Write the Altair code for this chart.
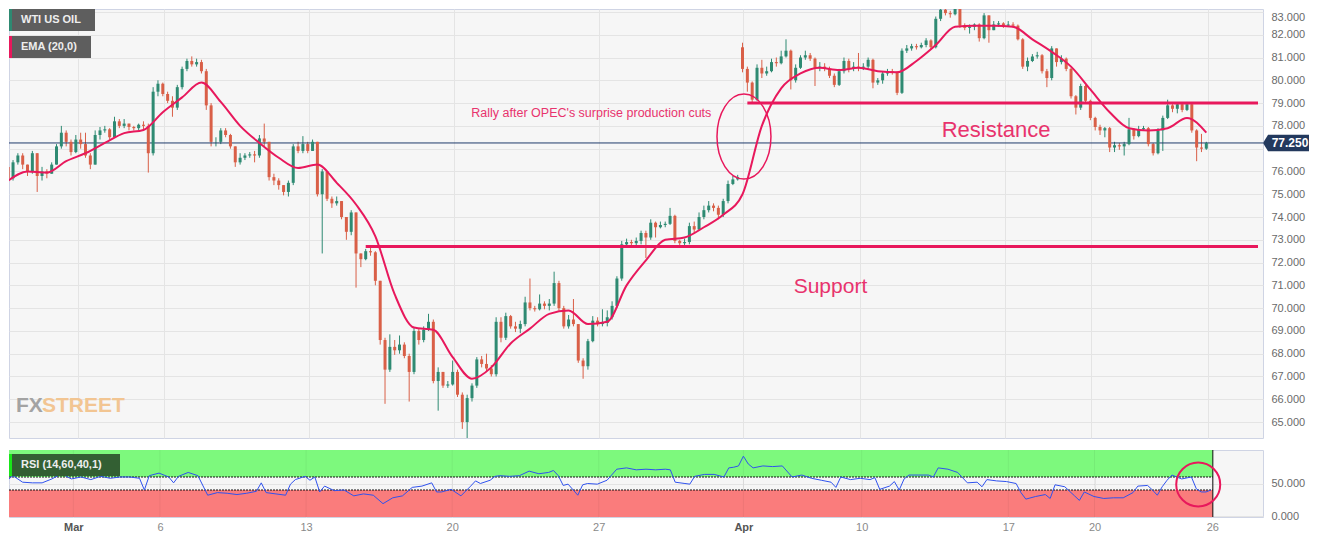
import altair as alt
import pandas as pd

# ---------------- data ----------------
# 4-hour candles, index 0..248 (x position = candle index)
close = [
    75.7, 76.4, 76.7, 76.3, 76.0, 76.8, 75.8, 76.0, 75.9, 76.3,
    77.1, 77.7, 77.3, 76.85, 77.4, 77.2, 76.7, 76.3, 77.6, 77.8,
    77.85, 77.5, 78.2, 78.0, 78.1, 77.95, 77.9, 78.05, 78.0, 76.8,
    79.5, 79.85, 79.4, 79.1, 78.8, 79.7, 80.5, 80.85, 80.7, 80.8,
    80.4, 78.9, 77.3, 77.3, 77.8, 77.6, 77.1, 76.4, 76.6, 76.7,
    76.75, 76.7, 77.45, 77.3, 75.75, 75.6, 75.4, 75.1, 75.5, 77.1,
    76.9, 77.2, 76.9, 77.3, 75.0, 76.0, 74.8, 74.6, 74.7, 74.0,
    73.35, 74.2, 72.4, 72.15, 72.5, 72.45, 71.2, 68.6, 67.3, 68.3,
    68.15, 68.4, 67.9, 67.2, 69.0, 68.6, 69.05, 69.4, 66.8, 67.2,
    66.6, 66.65, 67.2, 66.2, 65.0, 66.05, 66.6, 67.75, 67.55, 67.35,
    67.1, 69.4, 68.7, 69.65, 69.2, 69.1, 69.3, 70.25, 70.0, 69.95,
    70.2, 70.1, 70.2, 71.1, 70.0, 69.2, 69.5, 69.3, 67.7, 67.45,
    68.55, 69.45, 69.3, 69.35, 69.6, 70.1, 71.3, 72.8, 72.9, 72.85,
    72.95, 73.3, 73.1, 73.75, 73.55, 73.65, 73.7, 74.05, 72.95, 72.85,
    72.9, 73.6, 73.45, 74.0, 74.3, 74.5, 74.4, 74.1, 74.7, 75.45,
    75.65, 75.75, 80.5, 79.9, 79.15, 80.55, 80.3, 80.4, 80.8, 80.75,
    81.05, 81.3, 80.0, 80.55, 81.0, 81.1, 80.95, 80.55, 80.6, 80.5,
    80.2, 79.8, 80.4, 80.85, 80.5, 80.6, 80.55, 80.6, 80.9, 79.9,
    80.0, 80.3, 80.4, 80.35, 79.45, 81.3, 81.4, 81.5, 81.45, 81.55,
    81.75, 81.45, 82.7, 83.1, 82.95, 82.9, 83.15, 82.4, 82.3, 82.35,
    82.45, 81.85, 82.85, 82.2, 82.45, 82.5, 82.4, 82.45, 82.4, 81.8,
    80.6, 80.85, 81.05, 81.1, 80.4, 80.1, 81.4, 80.8, 80.95, 80.5,
    79.3, 78.8, 79.75, 79.1, 78.35, 77.95, 77.8, 77.9, 77.05, 77.15,
    77.1, 77.2, 77.85, 77.55, 77.85, 77.9, 77.2, 76.8, 77.8, 78.35,
    78.9, 78.75, 78.95, 78.7, 78.95, 77.8, 77.05, 77.0, 77.25,
]
high = [
    76.3, 76.5, 76.8, 76.8, 76.3, 76.9, 76.8, 76.2, 76.1, 76.4,
    77.2, 78.0, 77.8, 77.4, 77.6, 77.7, 77.7, 76.8, 77.8, 77.95,
    78.0, 77.9, 78.4, 78.3, 78.3, 78.1, 78.0, 78.1, 78.2, 78.1,
    79.7, 80.0, 79.9, 79.5, 79.3, 79.8, 80.6, 80.95, 81.05, 80.95,
    80.9, 80.5, 79.0, 77.5, 77.9, 77.9, 77.65, 77.1, 76.8, 76.8,
    76.85, 76.9, 77.6, 78.1, 77.3, 75.9, 75.7, 75.4, 75.6, 77.2,
    77.3, 77.55, 77.3, 77.4, 77.3, 76.1, 76.0, 74.9, 74.9, 74.7,
    74.0, 74.3, 74.2, 72.4, 72.6, 72.7, 72.5, 71.2, 68.7, 68.85,
    68.6, 68.8, 68.5, 68.0, 69.15, 69.1, 69.2, 69.75, 69.5, 67.4,
    67.2, 66.8, 67.7, 67.3, 66.3, 66.2, 66.7, 67.85, 67.9, 68.0,
    67.5, 69.6, 69.6, 69.8, 69.7, 69.4, 69.45, 70.5, 71.3, 70.1,
    70.6, 70.3, 70.4, 71.6, 71.2, 70.1, 69.7, 70.4, 69.3, 67.8,
    68.65, 69.65, 69.6, 69.95, 69.9, 70.3, 71.4, 72.95, 73.05, 73.0,
    73.1, 73.4, 73.4, 73.9, 73.8, 73.8, 73.8, 74.4, 74.1, 73.0,
    73.05, 73.75, 73.8, 74.2, 74.5, 74.7, 74.6, 74.5, 74.8, 75.6,
    75.8, 75.85, 81.65, 80.6, 79.95, 80.7, 80.9, 80.6, 80.95, 81.0,
    81.3, 81.8, 81.35, 80.7, 81.1, 81.3, 81.2, 81.0, 80.8, 80.75,
    80.6, 80.3, 80.5, 81.0, 80.95, 80.8, 81.2, 80.75, 81.0, 80.95,
    80.1, 80.4, 80.5, 80.5, 80.4, 81.4, 81.55, 81.6, 81.6, 81.65,
    81.85, 81.8, 82.8, 83.35, 83.15, 83.05, 83.25, 83.2, 82.5, 82.45,
    82.5, 82.5, 82.95, 82.85, 82.6, 82.6, 82.55, 82.6, 82.55, 82.45,
    81.85, 81.0, 81.15, 81.25, 81.15, 80.5, 81.5, 81.4, 81.1, 81.0,
    80.55, 79.35, 79.85, 79.8, 79.15, 78.4, 78.05, 77.95, 77.95, 77.3,
    77.25, 77.3, 78.35, 77.9, 78.0, 78.0, 77.95, 77.25, 77.9, 78.45,
    79.15, 78.95, 79.0, 79.0, 79.05, 79.0, 77.85, 77.65, 77.3,
]
low = [
    74.1, 75.6, 76.3, 76.1, 75.8, 75.9, 75.1, 75.6, 75.7, 75.9,
    76.3, 77.0, 77.1, 76.7, 76.8, 77.0, 76.6, 76.1, 76.3, 77.4,
    77.7, 77.4, 77.5, 77.9, 77.9, 77.8, 77.8, 77.8, 77.85, 75.95,
    76.7, 79.3, 79.3, 79.0, 78.4, 78.7, 79.6, 80.4, 80.6, 80.6,
    80.3, 78.7, 77.1, 77.1, 77.2, 77.5, 77.0, 76.2, 76.3, 76.5,
    76.6, 76.4, 76.6, 77.1, 75.6, 75.4, 75.2, 74.95, 74.9, 75.4,
    76.8, 76.8, 76.8, 76.9, 74.9, 72.4, 74.7, 74.4, 74.5, 73.9,
    73.0, 73.2, 70.9, 71.8, 72.1, 72.3, 71.0, 68.4, 65.8, 67.2,
    67.95, 68.0, 67.8, 65.9, 67.1, 68.4, 68.5, 69.0, 66.7, 65.5,
    66.5, 66.5, 66.6, 66.1, 64.7, 64.3, 65.9, 66.5, 67.4, 67.2,
    67.0, 67.0, 68.5, 68.6, 69.1, 68.95, 68.9, 69.2, 69.9, 69.85,
    69.9, 69.95, 69.9, 70.1, 69.9, 69.1, 69.1, 69.2, 67.6, 66.9,
    67.3, 68.5, 69.2, 69.2, 69.2, 69.5, 70.0, 71.2, 72.7, 72.7,
    72.7, 72.8, 72.2, 73.0, 73.1, 73.5, 73.55, 73.65, 72.85, 72.7,
    72.75, 72.8, 73.3, 73.4, 73.9, 74.2, 74.25, 73.9, 74.0, 74.6,
    75.4, 75.6, 80.35, 79.5, 79.0, 79.1, 80.1, 80.2, 80.35, 80.6,
    80.7, 81.0, 79.6, 79.9, 80.5, 80.9, 80.85, 79.75, 80.4, 80.4,
    80.1, 79.7, 79.75, 80.3, 80.35, 80.4, 80.4, 80.45, 80.5, 79.65,
    79.8, 79.85, 80.2, 80.25, 79.35, 79.4, 81.2, 81.3, 81.35, 81.4,
    81.45, 81.35, 81.4, 82.6, 82.85, 82.75, 82.85, 82.3, 82.2, 82.05,
    82.2, 81.7, 81.8, 81.65, 82.2, 82.35, 82.3, 82.35, 82.3, 81.75,
    80.5, 80.4, 80.8, 80.95, 80.3, 79.7, 80.0, 80.6, 80.7, 80.4,
    79.2, 78.5, 78.7, 79.0, 78.25, 77.8, 77.6, 77.5, 76.85, 76.85,
    76.95, 76.7, 77.15, 77.4, 77.5, 77.8, 77.1, 76.7, 76.75, 76.9,
    78.3, 78.6, 78.55, 78.6, 78.65, 77.7, 76.45, 76.85, 76.95,
]
gap_open = {0: 76.2, 152: 81.45}   # opens that differ from the previous close

ema_idx = list(range(0, 249, 4))
ema_val = [
    75.6, 76.0, 75.95, 76.45, 76.8, 77.25, 77.68, 77.82, 78.6, 79.25,
    79.9, 79.05, 78.0, 77.25, 76.6, 76.15, 76.3, 75.5, 74.55, 73.15,
    70.6, 69.15, 69.05, 67.85, 66.9, 67.4, 68.45, 69.1, 69.75, 69.9,
    69.3, 69.4, 71.0, 72.1, 73.0, 73.1, 73.55, 74.1, 75.0, 78.0,
    79.65, 80.3, 80.55, 80.45, 80.55, 80.4, 80.35, 80.85, 81.55, 82.35,
    82.4, 82.4, 82.35, 81.8, 81.25, 80.6, 79.6, 78.6, 77.9, 77.8,
    77.9, 78.35, 77.7,
]

rsi_idx = [
    0, 2, 4, 6, 8, 10, 12, 14, 16, 18,
    20, 22, 24, 26, 28, 29, 30, 32, 34, 35,
    36, 38, 40, 42, 44, 46, 48, 50, 52, 53,
    54, 56, 58, 59, 60, 62, 63, 64, 65, 66,
    68, 70, 72, 74, 76, 78, 80, 82, 84, 86,
    88, 89, 90, 92, 94, 96, 97, 98, 100, 101,
    102, 104, 106, 108, 110, 112, 113, 114, 115, 116,
    118, 119, 120, 122, 124, 126, 128, 130, 132, 134,
    136, 137, 138, 140, 141, 142, 144, 146, 148, 149,
    150, 151, 152, 153, 154, 156, 158, 160, 162, 164,
    166, 168, 170, 171, 172, 174, 176, 178, 179, 180,
    182, 183, 184, 185, 186, 188, 190, 191, 192, 194,
    196, 198, 200, 201, 202, 204, 206, 208, 209, 210,
    212, 214, 215, 216, 218, 220, 221, 222, 224, 226,
    228, 230, 232, 233, 235, 236, 237, 238, 239, 240,
    242, 244, 245, 246, 247, 248,
]
rsi_val = [
    50, 62, 52, 51, 51, 57, 65, 57, 60, 56,
    61, 58, 60, 60, 58, 40, 62, 66, 60, 51,
    61, 67, 62, 32, 36, 35, 33, 35, 38, 51,
    36, 34, 32, 49, 56, 61, 55, 60, 37, 46,
    39, 40, 31, 34, 32, 19, 28, 31, 44, 46,
    51, 37, 37, 41, 31, 46, 54, 50, 55, 61,
    62, 61, 62, 69, 65, 67, 70, 62, 47, 49,
    32, 48, 50, 49, 55, 72, 74, 71, 72, 71,
    72, 71, 52, 50, 49, 61, 64, 64, 60, 74,
    75, 77, 92, 80, 74, 77, 76, 77, 60, 63,
    58, 55, 52, 44, 60, 56, 58, 56, 59, 41,
    46, 53, 40, 57, 63, 63, 63, 60, 74, 72,
    67, 51, 52, 45, 56, 54, 53, 50, 36, 26,
    30, 33, 27, 48, 45, 31, 24, 37, 30, 27,
    28, 28, 36, 46, 47, 40, 32, 45, 55, 63,
    57, 60, 42, 37, 37, 40,
]

tick_idx = [14.4, 32.2, 62.2, 92.2, 122.3, 152.0, 176.3, 206.4, 224.1, 248.3]
tick_lab = ["Mar", "6", "13", "20", "27", "Apr", "10", "17", "20", "26"]
month_ticks = [14.4, 152.0]
price_ticks = list(range(65, 84))
rsi_ticks = [0, 50]

last_price = 77.25
resistance, resistance_from = 79.0, 153
support, support_from = 72.7, 74
rsi_hi, rsi_lo = 60, 40
rsi_end = 248.4

notes_rally = ("Rally after OPEC's surprise production cuts", 120.7, 78.57)
notes_res = ("Resistance", 204.5, 77.82)
notes_sup = ("Support", 170.2, 70.93)
ellipse_at = (152.3, 77.53)
circle_at = (245.4, 48.5)

X_MIN, X_MAX = 1.2, 258.7
Y_MIN, Y_MAX = 64.30, 83.13
R_MIN, R_MAX = -1.5, 101.5

# ---------------- styling ----------------
GREEN = "#2e8a72"
RED = "#d95f47"
CRIMSON = "#e8185c"
TEXT_CRIMSON = "#e8336d"
NAVY = "#1f3b6b"
TAG = "#23395d"
W, H_MAIN, H_RSI = 1254, 429, 67

n = len(close)
assert len(high) == n and len(low) == n
assert len(ema_idx) == len(ema_val)
assert len(rsi_idx) == len(rsi_val)

rows = []
for i in range(n):
    o = gap_open[i] if i in gap_open else close[i - 1]
    c = close[i]
    rows.append({"i": i, "o": o, "c": c, "h": max(high[i], o, c), "l": min(low[i], o, c)})
candles = pd.DataFrame(rows)
ema = pd.DataFrame({"i": ema_idx, "v": ema_val})
rsi = pd.DataFrame({"i": rsi_idx, "v": rsi_val})
one = pd.DataFrame({"k": [0]})

xs = alt.Scale(domain=[X_MIN, X_MAX], nice=False, zero=False)
ys = alt.Scale(domain=[Y_MIN, Y_MAX], nice=False, zero=False)
rs = alt.Scale(domain=[R_MIN, R_MAX], nice=False, zero=False)

up_color = alt.condition("datum.c >= datum.o", alt.value(GREEN), alt.value(RED))

x_main_axis = alt.Axis(values=tick_idx, labels=False, ticks=False, domain=False,
                       grid=True, title=None)
y_main_axis = alt.Axis(orient="right", values=price_ticks, format=".3f", grid=True,
                       ticks=False, domain=False, title=None, labelPadding=8,
                       labelFlush=5,
                       labelExpr=f"datum.value == {round(last_price)} ? '' : datum.label")

label_expr = "''"
for v, lab in reversed(list(zip(tick_idx, tick_lab))):
    label_expr = f"datum.value == {v} ? '{lab}' : ({label_expr})"
month_test = " || ".join(f"datum.value == {v}" for v in month_ticks)

x_rsi_axis = alt.Axis(values=tick_idx, labelExpr=label_expr, ticks=False, domain=False,
                      grid=True, title=None, labelPadding=4, labelFontSize=11,
                      labelFontWeight={"condition": {"test": month_test, "value": "bold"}, "value": "normal"},
                      labelColor={"condition": {"test": month_test, "value": "#555555"}, "value": "#8a8a8a"})
y_rsi_axis = alt.Axis(orient="right", values=rsi_ticks, format=".3f", grid=True,
                      ticks=False, domain=False, title=None, labelPadding=8)


def X(field):
    return alt.X(field, scale=xs, axis=x_main_axis)


def Y(field):
    return alt.Y(field, scale=ys, axis=y_main_axis)


# ---------------- main panel ----------------
wicks = alt.Chart(candles).mark_rule(strokeWidth=1, clip=True).encode(
    x=X("i:Q"), y=Y("l:Q"), y2="h:Q", color=up_color)
bodies = alt.Chart(candles).mark_bar(size=3, clip=True).encode(
    x=X("i:Q"), y=Y("o:Q"), y2="c:Q", color=up_color)

last_line = alt.Chart(pd.DataFrame({"p": [last_price]})).mark_rule(
    color=NAVY, strokeWidth=1).encode(y=Y("p:Q"))

levels = pd.DataFrame({"a": [resistance_from, support_from], "b": [X_MAX, X_MAX],
                       "p": [resistance, support]})
level_lines = alt.Chart(levels).mark_rule(color=CRIMSON, strokeWidth=3).encode(
    x=X("a:Q"), x2="b:Q", y=Y("p:Q"))

ema_line = alt.Chart(ema).mark_line(color=CRIMSON, strokeWidth=2, interpolate="monotone",
                                    clip=True).encode(x=X("i:Q"), y=Y("v:Q"))


def note(spec, size, font):
    t, xi, yp = spec
    return alt.Chart(pd.DataFrame({"t": [t], "x": [xi], "y": [yp]})).mark_text(
        color=TEXT_CRIMSON, fontSize=size, font=font, align="center", baseline="middle"
    ).encode(x=X("x:Q"), y=Y("y:Q"), text="t:N")


rally = note(notes_rally, 12.5, "Liberation Sans")
res_txt = note(notes_res, 22, "Liberation Sans")
sup_txt = note(notes_sup, 21, "Liberation Sans")

ELLIPSE = ("M0,-1C0.351,-1,0.635,-0.552,0.635,0C0.635,0.552,0.351,1,0,1"
           "C-0.351,1,-0.635,0.552,-0.635,0C-0.635,-0.552,-0.351,-1,0,-1Z")
ellipse = alt.Chart(pd.DataFrame({"x": [ellipse_at[0]], "y": [ellipse_at[1]]})).mark_point(
    shape=ELLIPSE, size=7225, filled=False, color=CRIMSON, strokeWidth=1.5, opacity=1
).encode(x=X("x:Q"), y=Y("y:Q"))

TAGPATH = "M-1,0L-0.78,-0.36L1,-0.36L1,0.36L-0.78,0.36Z"
tag = alt.Chart(pd.DataFrame({"p": [last_price]})).mark_point(
    shape=TAGPATH, size=2116, filled=True, color=TAG, opacity=1, strokeWidth=0
).encode(x=alt.value(W + 23), y=Y("p:Q"))
tag_txt = alt.Chart(pd.DataFrame({"p": [last_price], "t": [f"{last_price:.3f}"]})).mark_text(
    color="white", fontWeight="bold", fontSize=12, font="Liberation Sans", align="center",
    baseline="middle"
).encode(x=alt.value(W + 27), y=Y("p:Q"), text="t:N")


def box(x1, x2, y1, y2, color):
    return alt.Chart(one).mark_rect(color=color, opacity=1).encode(
        x=alt.value(x1), x2=alt.value(x2), y=alt.value(y1), y2=alt.value(y2))


def label(txt, x, y, color="white", size=11, weight="bold", font="Liberation Sans"):
    return alt.Chart(one).mark_text(text=txt, color=color, fontSize=size, fontWeight=weight,
                                    font=font, align="left", baseline="middle").encode(
        x=alt.value(x), y=alt.value(y))


legend = [
    box(0, 86, 0, 22, "#5e5e5e"), box(0, 3, 0, 22, "#2e8a72"),
    label("WTI US OIL", 12, 11, "#eeeeee"),
    box(0, 82, 27, 49, "#5e5e5e"), box(0, 3, 27, 49, CRIMSON),
    label("EMA (20,0)", 12, 38, "#eeeeee"),
]
watermark = [
    label("FX", 7, 397, "#a3a3a3", 21, "bold"),
    label("STREET", 33, 397, "#f2c592", 21, "bold"),
]

main = alt.layer(
    wicks, last_line, bodies, level_lines, ema_line, rally, res_txt, sup_txt, ellipse,
    tag, tag_txt, *legend, *watermark
).properties(width=W, height=H_MAIN)


# ---------------- RSI panel ----------------
def RX(field):
    return alt.X(field, scale=xs, axis=x_rsi_axis)


def RY(field):
    return alt.Y(field, scale=rs, axis=y_rsi_axis)


bands = pd.DataFrame({"a": [X_MIN, X_MIN], "b": [rsi_end, rsi_end],
                      "lo": [rsi_hi, R_MIN], "hi": [R_MAX, rsi_lo],
                      "zone": ["over", "under"]})
band_rects = alt.Chart(bands).mark_rect(opacity=1).encode(
    x=RX("a:Q"), x2="b:Q", y=RY("lo:Q"), y2="hi:Q",
    color=alt.Color("zone:N", scale=alt.Scale(domain=["over", "under"],
                                               range=["#7df97d", "#fa7c7c"]), legend=None))
vgrid = alt.Chart(pd.DataFrame({"i": tick_idx})).mark_rule(color="#000000", opacity=0.05).encode(
    x=RX("i:Q"))
dots = alt.Chart(pd.DataFrame({"a": [X_MIN, X_MIN], "b": [rsi_end, rsi_end],
                               "p": [rsi_hi, rsi_lo]})).mark_rule(
    color="#111111", strokeWidth=1, strokeDash=[2, 1]).encode(x=RX("a:Q"), x2="b:Q", y=RY("p:Q"))
end_line = alt.Chart(pd.DataFrame({"i": [rsi_end], "a": [R_MIN], "b": [R_MAX]})).mark_rule(
    color="#111111", strokeWidth=1).encode(x=RX("i:Q"), y=RY("a:Q"), y2="b:Q")
rsi_line = alt.Chart(rsi).mark_line(color="#2f52ee", strokeWidth=1, clip=True).encode(
    x=RX("i:Q"), y=RY("v:Q"))
circle = alt.Chart(pd.DataFrame({"x": [circle_at[0]], "y": [circle_at[1]]})).mark_point(
    shape="circle", size=1936, filled=False, color=CRIMSON, strokeWidth=2, opacity=1
).encode(x=RX("x:Q"), y=RY("y:Q"))
rsi_legend = [
    box(0, 3, 4, 26, "#19e619"), box(3, 111, 4, 26, "#335f33"),
    label("RSI (14,60,40,1)", 12, 15, "#eeeeee"),
]

rsi_panel = alt.layer(
    band_rects, vgrid, dots, end_line, rsi_line, circle, *rsi_legend
).properties(width=W, height=H_RSI)

chart = alt.vconcat(main, rsi_panel, spacing=10, padding=0).configure_view(
    stroke="#cfd4e4", fill="#f6f6f6"
).configure_axis(
    labelFont="Liberation Sans", labelColor="#6a6a6a", labelFontSize=11,
    gridColor="#e4e4e4", gridWidth=1
)

chart.save("out.html", embed_options={"renderer": "svg", "actions": False})
